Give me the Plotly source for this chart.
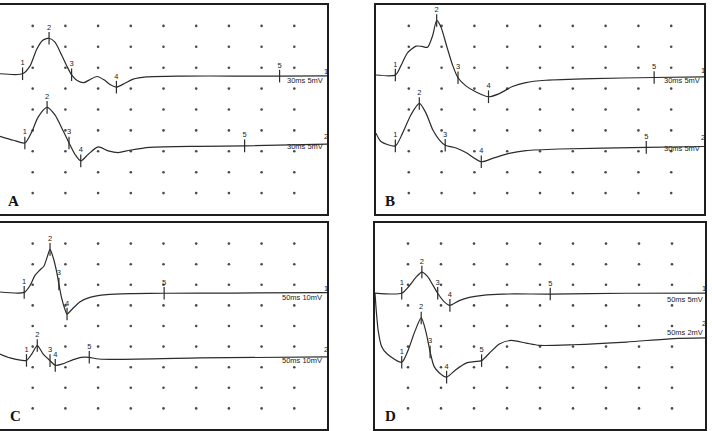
import plotly.graph_objects as go

# ---------------- data (time and amplitude in screen divisions) ----------------
# Panel A
a1_t = [0, 0.69, 0.92, 1.12, 1.30, 1.50, 1.68, 1.88, 2.04, 2.19, 2.36, 2.57, 2.77, 2.97, 3.18, 3.38, 3.56, 3.82, 4.07, 4.48, 5.60, 7.13, 8.55, 10]
a1_v = [6.71, 6.71, 7.09, 7.87, 8.30, 8.41, 8.22, 7.62, 7.09, 6.66, 6.39, 6.29, 6.45, 6.58, 6.42, 6.18, 6.07, 6.26, 6.45, 6.56, 6.60, 6.60, 6.60, 6.61]
a1_marks = [1, 5, 9, 16, 22]
a2_t = [0, 0.41, 0.76, 0.97, 1.17, 1.44, 1.68, 1.93, 2.11, 2.29, 2.47, 2.70, 3.00, 3.31, 3.62, 3.97, 4.58, 6.11, 7.48, 10]
a2_v = [3.72, 3.53, 3.40, 3.93, 4.65, 5.10, 4.74, 3.98, 3.40, 2.86, 2.54, 2.86, 3.21, 3.02, 2.94, 3.05, 3.19, 3.24, 3.26, 3.34]
a2_marks = [2, 5, 8, 10, 18]

# Panel B
b1_t = [0, 0.59, 0.76, 0.96, 1.22, 1.40, 1.57, 1.73, 1.85, 1.98, 2.15, 2.34, 2.50, 2.74, 3.05, 3.43, 3.76, 4.16, 4.57, 5.18, 6.60, 8.48, 10]
b1_v = [6.65, 6.65, 7.10, 7.71, 8.03, 8.02, 7.98, 8.55, 9.26, 8.95, 8.06, 7.10, 6.52, 6.13, 5.84, 5.61, 5.76, 6.10, 6.29, 6.40, 6.48, 6.53, 6.56]
b1_marks = [1, 8, 12, 15, 21]
b2_t = [0, 0.15, 0.59, 0.81, 1.07, 1.32, 1.52, 1.73, 1.93, 2.11, 2.44, 2.74, 3.21, 3.55, 4.06, 4.57, 5.58, 8.24, 10]
b2_v = [3.87, 3.47, 3.26, 3.87, 4.76, 5.29, 4.84, 4.03, 3.55, 3.29, 3.16, 2.94, 2.50, 2.66, 2.90, 3.03, 3.11, 3.19, 3.23]
b2_marks = [2, 5, 9, 12, 17]

# Panel C
c1_t = [0, 0.74, 0.92, 1.07, 1.22, 1.34, 1.45, 1.53, 1.63, 1.73, 1.80, 1.88, 1.99, 2.05, 2.19, 2.44, 2.75, 3.26, 4.07, 5.02, 7.13, 10]
c1_v = [6.65, 6.63, 6.97, 7.46, 7.72, 7.90, 8.38, 8.72, 8.30, 7.65, 7.04, 6.39, 5.79, 5.58, 5.79, 6.17, 6.39, 6.52, 6.57, 6.59, 6.60, 6.62]
c1_marks = [1, 7, 10, 13, 19]
c2_t = [0, 0.31, 0.81, 0.97, 1.14, 1.32, 1.53, 1.69, 1.93, 2.24, 2.49, 2.73, 2.95, 3.36, 6.11, 10]
c2_v = [3.64, 3.45, 3.33, 3.64, 4.05, 3.64, 3.32, 3.09, 3.17, 3.37, 3.48, 3.48, 3.41, 3.38, 3.45, 3.50]
c2_marks = [2, 4, 6, 7, 11]

# Panel D
d1_t = [0, 0.81, 1.03, 1.24, 1.42, 1.59, 1.76, 1.90, 2.10, 2.27, 2.55, 2.86, 3.26, 3.87, 5.31, 7.62, 10]
d1_v = [6.60, 6.59, 6.93, 7.36, 7.62, 7.41, 6.97, 6.59, 6.17, 6.00, 6.23, 6.39, 6.49, 6.55, 6.55, 6.59, 6.60]
d1_marks = [1, 4, 7, 9, 14]
d2_t = [0, 0.04, 0.10, 0.20, 0.37, 0.81, 1.01, 1.19, 1.40, 1.54, 1.67, 1.79, 1.95, 2.17, 2.45, 2.76, 3.01, 3.23, 3.47, 3.77, 4.12, 4.58, 4.98, 6.00, 7.62, 9.04, 10]
d2_v = [6.60, 5.71, 4.74, 4.01, 3.64, 3.24, 3.85, 4.66, 5.39, 4.74, 3.74, 3.04, 2.72, 2.52, 2.88, 3.20, 3.27, 3.32, 3.69, 4.13, 4.30, 4.17, 4.06, 4.09, 4.22, 4.39, 4.42]
d2_marks = [5, 8, 10, 13, 17]

mark_labels = ["1", "2", "3", "4", "5"]
panel_letters = ["A", "B", "C", "D"]
scale_labels = [["30ms 5mV", "30ms 5mV"], ["30ms 5mV", "30ms 5mV"],
                ["50ms 10mV", "50ms 10mV"], ["50ms 5mV", "50ms 2mV"]]
scale_pos = [[(9.32, 6.37), (9.32, 3.24)], [(9.34, 6.40), (9.34, 3.15)],
             [(9.25, 6.39), (9.25, 3.33)], [(9.39, 6.31), (9.39, 4.69)]]
chan_pos = [[(9.97, 6.82), (9.97, 3.69)], [(9.97, 6.85), (9.97, 3.66)],
            [(9.97, 6.84), (9.97, 3.85)], [(9.96, 6.84), (9.97, 5.10)]]
grid_ticks = [1, 2, 3, 4, 5, 6, 7, 8, 9]

panels = [
    [(a1_t, a1_v, a1_marks), (a2_t, a2_v, a2_marks)],
    [(b1_t, b1_v, b1_marks), (b2_t, b2_v, b2_marks)],
    [(c1_t, c1_v, c1_marks), (c2_t, c2_v, c2_marks)],
    [(d1_t, d1_v, d1_marks), (d2_t, d2_v, d2_marks)],
]

# ---------------- layout geometry ----------------
W, H = 712, 431
boxes = [(0, 327, 5, 214), (376, 704, 5, 214), (0, 327, 223, 429), (375, 705, 223, 429)]
letter_x = [0.042, 0.044, 0.048, 0.046]

fig = go.Figure()
TRACE = "#2b2b2b"
DOT = "#4a4a4a"

for i, (pan, box) in enumerate(zip(panels, boxes)):
    n = "" if i == 0 else str(i + 1)
    xa, ya = "x" + n, "y" + n
    # grid dots
    gx = [x for x in grid_ticks for _ in grid_ticks]
    gy = [y for _ in grid_ticks for y in grid_ticks]
    fig.add_trace(go.Scatter(x=gx, y=gy, mode="markers", xaxis=xa, yaxis=ya,
                             marker=dict(size=2.6, color=DOT), hoverinfo="skip",
                             showlegend=False))
    for k, (t, v, marks) in enumerate(pan):
        fig.add_trace(go.Scatter(x=t, y=v, mode="lines", xaxis=xa, yaxis=ya,
                                 line=dict(color=TRACE, width=1.2, shape="spline", smoothing=0.7),
                                 showlegend=False, hoverinfo="skip"))
        fig.add_trace(go.Scatter(x=[t[j] for j in marks], y=[v[j] for j in marks],
                                 mode="markers+text", xaxis=xa, yaxis=ya,
                                 marker=dict(symbol="line-ns", size=9,
                                             line=dict(color=TRACE, width=1.2)),
                                 text=mark_labels, textposition="top center",
                                 textfont=dict(family="Liberation Sans, Arial", size=7.5, color="#222"),
                                 showlegend=False, hoverinfo="skip"))
        sx, sy = scale_pos[i][k]
        fig.add_annotation(x=sx, y=sy, xref=xa, yref=ya, text=scale_labels[i][k],
                           showarrow=False, xanchor="center", yanchor="middle",
                           font=dict(family="Liberation Sans, Arial", size=7.5, color="#222"))
        cx, cy = chan_pos[i][k]
        fig.add_annotation(x=cx, y=cy, xref=xa, yref=ya, text=str(k + 1),
                           showarrow=False, xanchor="center", yanchor="middle",
                           font=dict(family="Liberation Sans, Arial", size=7.5, color="#222"))
    fig.add_annotation(x=letter_x[i], y=0.015, xref=xa + " domain", yref=ya + " domain",
                       text="<b>" + panel_letters[i] + "</b>", showarrow=False,
                       xanchor="center", yanchor="bottom",
                       font=dict(family="Liberation Serif, Times New Roman", size=15, color="#111"))
    x0, x1, y0, y1 = box
    axis_common = dict(showgrid=False, zeroline=False, showticklabels=False, ticks="",
                       showline=True, mirror=True, linecolor="#1e1e1e", linewidth=2,
                       fixedrange=True)
    fig.layout["xaxis" + n] = dict(domain=[x0 / W, x1 / W], range=[0, 10], anchor=ya, **axis_common)
    fig.layout["yaxis" + n] = dict(domain=[(H - y1) / H, (H - y0) / H], range=[0, 10], anchor=xa, **axis_common)

fig.update_layout(width=W, height=H, margin=dict(l=0, r=0, t=0, b=0),
                  paper_bgcolor="white", plot_bgcolor="white", showlegend=False)

fig.write_html("out.html")
